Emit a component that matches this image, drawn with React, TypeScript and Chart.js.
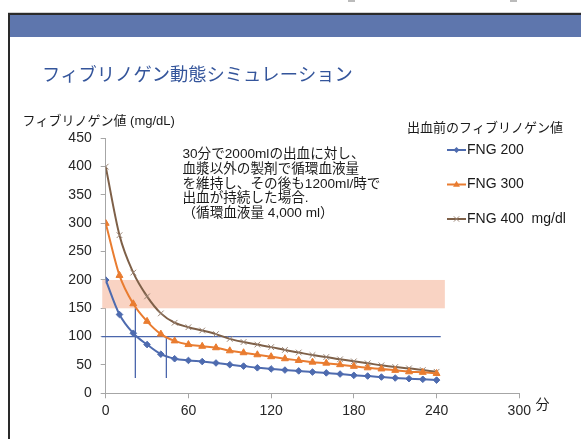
import { useEffect, useRef } from 'react';
import { Chart, registerables } from 'chart.js';

Chart.register(...registerables);

// ---- data ----
const minutes = [0, 10, 20, 30, 40, 50, 60, 70, 80, 90, 100, 110, 120, 130, 140, 150, 160, 170, 180, 190, 200, 210, 220, 230, 240];
const fng200 = [200, 139, 106, 86, 69, 61, 58, 56, 53.5, 50.5, 48, 45, 43, 41, 39.5, 37.5, 36, 34, 31.7, 30.5, 28.7, 27, 25.8, 24.7, 23.3];
const fng300 = [300, 208, 158, 127, 104.5, 92.5, 86, 83, 80.4, 75, 71.6, 68, 64.6, 61, 58, 55, 53.2, 50.5, 47.6, 45, 43, 40.5, 38, 37, 35];
const fng400 = [400, 279, 213, 171, 141, 124.5, 116.6, 110.8, 104.5, 96, 90.5, 86, 81.5, 76.5, 72, 67.5, 64, 60, 56.4, 53, 49.4, 46.4, 44, 41, 38];
const seriesLabels = ['FNG 200', 'FNG 300', 'FNG 400  mg/dl'];
const seriesColors = ['#4E6BAF', '#E97C30', '#7E6048'];
const xTicks = [0, 60, 120, 180, 240, 300];
const yTickStep = 50;
const yMax = 450;
const xMax = 300;

// reference annotations (data units)
const targetBand = [150, 200];
const bandRange = [-2.5, 246];
const refLineValue = 100;
const refLineRange = [-3, 243];
const markerLines = [
  { x: 21.5, from: 27, to: 150 },
  { x: 44, from: 27, to: 100 },
];

// texts
const titleText = 'フィブリノゲン動態シミュレーション';
const yTitleText = 'フィブリノゲン値 (mg/dL)';
const xUnitText = '分';
const noteLines = [
  '30分で2000mlの出血に対し、',
  '血漿以外の製剤で循環血液量',
  'を維持し、その後も1200ml/時で',
  '出血が持続した場合.',
  '（循環血液量 4,000 ml）',
];
const legendTitle = '出血前のフィブリノゲン値';

const FONT = '"Liberation Sans", Arial, "Noto Sans CJK JP", sans-serif';

function drawMarker(ctx: CanvasRenderingContext2D, style: string, cx: number, cy: number, r: number, color: string) {
  ctx.save();
  ctx.fillStyle = color;
  ctx.strokeStyle = color;
  ctx.lineWidth = 1;
  ctx.beginPath();
  if (style === 'rectRot') {
    ctx.moveTo(cx, cy - r);
    ctx.lineTo(cx + r, cy);
    ctx.lineTo(cx, cy + r);
    ctx.lineTo(cx - r, cy);
    ctx.closePath();
    ctx.fill();
  } else if (style === 'triangle') {
    ctx.moveTo(cx, cy - r);
    ctx.lineTo(cx + r * 0.9, cy + r * 0.6);
    ctx.lineTo(cx - r * 0.9, cy + r * 0.6);
    ctx.closePath();
    ctx.fill();
  } else {
    const d = r * 0.7;
    ctx.strokeStyle = '#9A8474';
    ctx.moveTo(cx - d, cy - d);
    ctx.lineTo(cx + d, cy + d);
    ctx.moveTo(cx + d, cy - d);
    ctx.lineTo(cx - d, cy + d);
    ctx.stroke();
  }
  ctx.restore();
}

const pointStyles = ['rectRot', 'triangle', 'crossRot'];

const overlayPlugin = {
  id: 'overlay',
  beforeDatasetsDraw(chart: any) {
    const { ctx } = chart;
    const x = chart.scales.x;
    const y = chart.scales.y;
    ctx.save();
    // target band
    ctx.fillStyle = '#F9D3C3';
    const bx0 = x.getPixelForValue(bandRange[0]);
    const bx1 = x.getPixelForValue(bandRange[1]);
    const by0 = y.getPixelForValue(targetBand[1]);
    const by1 = y.getPixelForValue(targetBand[0]);
    ctx.fillRect(bx0, by0, bx1 - bx0, by1 - by0);
    // reference line
    ctx.strokeStyle = '#4A66AC';
    ctx.lineWidth = 1.3;
    ctx.beginPath();
    const ry = y.getPixelForValue(refLineValue);
    ctx.moveTo(x.getPixelForValue(refLineRange[0]), ry);
    ctx.lineTo(x.getPixelForValue(refLineRange[1]), ry);
    ctx.stroke();
    // vertical marker lines
    for (const m of markerLines) {
      const mx = x.getPixelForValue(m.x);
      ctx.beginPath();
      ctx.moveTo(mx, y.getPixelForValue(m.to));
      ctx.lineTo(mx, y.getPixelForValue(m.from));
      ctx.stroke();
    }
    ctx.restore();
  },
  afterDraw(chart: any) {
    const { ctx } = chart;
    ctx.save();
    ctx.textBaseline = 'middle';
    ctx.textAlign = 'left';
    // title
    ctx.fillStyle = '#34559B';
    ctx.font = `18.3px ${FONT}`;
    ctx.fillText(titleText, 42, 76);
    // y title
    ctx.fillStyle = '#1a1a1a';
    ctx.font = `13px ${FONT}`;
    ctx.fillText(yTitleText, 22.5, 121.5);
    // x unit
    ctx.font = `14px ${FONT}`;
    ctx.fillText(xUnitText, 535.5, 405.5);
    // note
    ctx.font = `13.6px ${FONT}`;
    noteLines.forEach((line, i) => {
      ctx.fillText(line, 182.5, 154.5 + i * 14.7);
    });
    // legend
    ctx.font = `13px ${FONT}`;
    ctx.fillText(legendTitle, 407, 128.5);
    ctx.font = `14px ${FONT}`;
    const legendY = [150, 184.5, 219];
    seriesLabels.forEach((label, i) => {
      const ly = legendY[i];
      ctx.strokeStyle = seriesColors[i];
      ctx.lineWidth = 2;
      ctx.beginPath();
      ctx.moveTo(447, ly);
      ctx.lineTo(466, ly);
      ctx.stroke();
      drawMarker(ctx, pointStyles[i], 456.5, ly, i === 0 ? 3 : 3.8, seriesColors[i]);
      ctx.fillStyle = '#1a1a1a';
      ctx.fillText(label, 467, ly);
    });
    ctx.restore();
  },
};

export default function App() {
  const canvasRef = useRef<HTMLCanvasElement | null>(null);

  useEffect(() => {
    const canvas = canvasRef.current;
    if (!canvas) return;
    const series = [fng200, fng300, fng400];
    const chart = new Chart(canvas, {
      type: 'line',
      data: {
        datasets: series.map((vals, i) => ({
          label: seriesLabels[i],
          data: minutes.map((m, j) => ({ x: m, y: vals[j] })),
          borderColor: seriesColors[i],
          backgroundColor: seriesColors[i],
          borderWidth: 2,
          cubicInterpolationMode: 'monotone' as const,
          pointStyle: pointStyles[i] as any,
          pointRadius: i === 0 ? 3.3 : 4,
          pointBorderWidth: 1,
          pointBackgroundColor: seriesColors[i],
          pointBorderColor: i === 2 ? '#9A8474' : seriesColors[i],
          fill: false,
        })),
      },
      options: {
        responsive: false,
        animation: false,
        devicePixelRatio: 1,
        layout: { padding: { left: 0, right: 61.7, top: 138.3, bottom: 15.7 } },
        plugins: {
          legend: { display: false },
          tooltip: { enabled: false },
          title: { display: false },
        },
        scales: {
          x: {
            type: 'linear',
            min: 0,
            max: xMax,
            afterFit: (s: any) => { s.height = 30; },
            afterBuildTicks: (s: any) => { s.ticks = xTicks.map((v) => ({ value: v })); },
            grid: { display: true, drawOnChartArea: false, drawTicks: true, tickLength: 5, color: '#A6A6A6' },
            border: { display: true, color: '#A6A6A6', width: 1 },
            ticks: { color: '#262626', font: { family: FONT, size: 14 }, padding: 4, maxRotation: 0 },
          },
          y: {
            type: 'linear',
            min: 0,
            max: yMax,
            afterFit: (s: any) => { s.width = 105.7; },
            grid: { display: true, drawOnChartArea: false, drawTicks: true, tickLength: 5, color: '#A6A6A6' },
            border: { display: true, color: '#A6A6A6', width: 1 },
            ticks: { stepSize: yTickStep, color: '#262626', font: { family: FONT, size: 14 }, padding: 9 },
          },
        },
      },
      plugins: [overlayPlugin],
    });
    return () => chart.destroy();
  }, []);

  return (
    <div style={{ position: 'fixed', left: 0, top: 0, width: 581, height: 439, background: '#fff', overflow: 'hidden' }}>
      <div style={{ position: 'absolute', left: 348, top: 0, width: 7, height: 2, background: '#bbb' }} />
      <div style={{ position: 'absolute', left: 510, top: 0, width: 7, height: 2, background: '#bbb' }} />
      <div style={{ position: 'absolute', left: 7.5, top: 12, width: 574, height: 1, background: '#d0d0d0' }} />
      <div style={{ position: 'absolute', left: 7.5, top: 13, width: 574, height: 1.7, background: '#2a2a2a' }} />
      <div style={{ position: 'absolute', left: 7.5, top: 13, width: 2, height: 426, background: '#2a2a2a' }} />
      <div style={{ position: 'absolute', left: 9.5, top: 14.7, width: 572, height: 22, background: '#5E76AD' }} />
      <canvas ref={canvasRef} width={581} height={439} style={{ position: 'absolute', left: 0, top: 0, width: 581, height: 439 }} />
    </div>
  );
}
